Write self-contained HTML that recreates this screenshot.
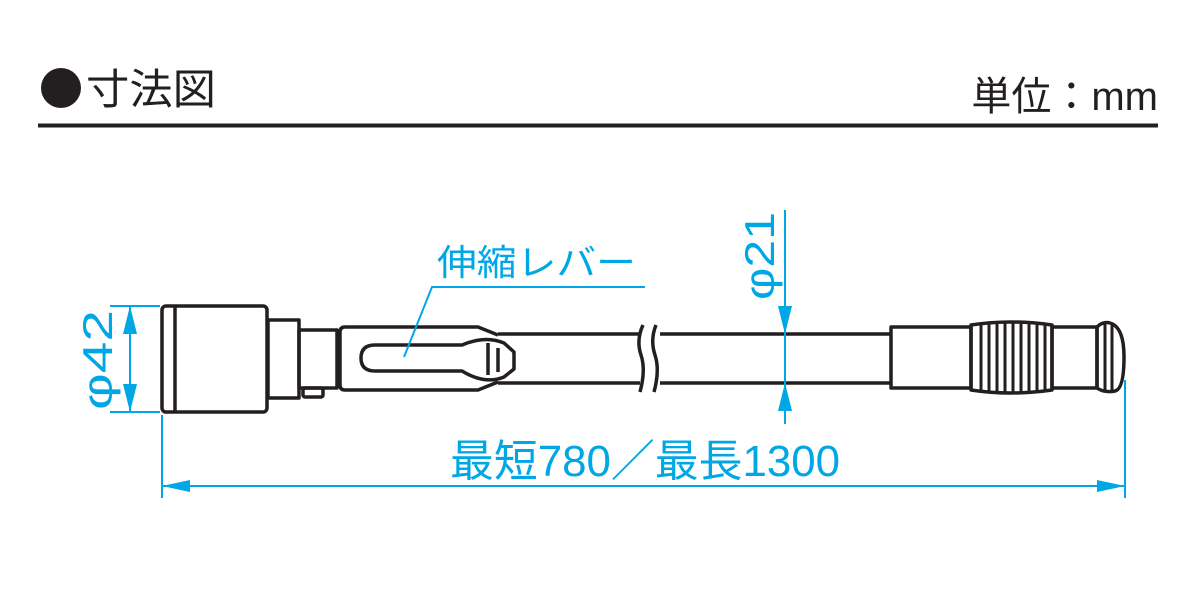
<!DOCTYPE html>
<html><head><meta charset="utf-8"><style>
html,body{margin:0;padding:0;background:#fff;width:1200px;height:600px;overflow:hidden}
svg{display:block}
text{font-family:"Liberation Sans","Noto Sans CJK JP",sans-serif}
</style></head><body>
<svg width="1200" height="600" viewBox="0 0 1200 600" xmlns="http://www.w3.org/2000/svg">
<circle cx="61" cy="88" r="20" fill="#231f20"/>
<text x="86" y="104" font-size="42" fill="#231f20" textLength="130" lengthAdjust="spacingAndGlyphs">寸法図</text>
<text x="1158" y="110" font-size="40" fill="#231f20" text-anchor="end">単位：mm</text>
<rect x="38" y="123.5" width="1120" height="4" fill="#231f20"/>

<g fill="none" stroke="#231f20" stroke-width="3.5" stroke-linejoin="round">
<rect x="162" y="306" width="105" height="106" rx="4"/>
<line x1="175" y1="306" x2="175" y2="412"/>
<rect x="268" y="320" width="31" height="78"/>
<rect x="299" y="330" width="38" height="58"/>
<rect x="303" y="388" width="20" height="9" rx="2"/>
<path d="M498 335 L478 327 H345 Q340 327 340 332 V385 Q340 390 345 390 H478 L498 382"/>
<path d="M375 345 H462 Q485 335 504 343 L514 352 V369 L504 377 Q485 385 462 371 H375 Q361 371 361 358 Q361 345 375 345 Z"/>
<line x1="488" y1="343" x2="488" y2="375"/>
<line x1="498" y1="348" x2="498" y2="372"/>
<line x1="498" y1="334" x2="640" y2="334"/>
<line x1="498" y1="383" x2="640" y2="383"/>
<line x1="660" y1="334" x2="891" y2="334"/>
<line x1="660" y1="383" x2="891" y2="383"/>
<path d="M643 325 Q636 340 641 355 Q646 370 640 392"/>
<path d="M656 325 Q650 340 655 355 Q660 370 654 392"/>
<rect x="891" y="327" width="80" height="61"/>
<path d="M971 325 Q1010 319 1052 325 V390 Q1010 396 971 390 Z"/>
<rect x="1052" y="327" width="45" height="61"/>
<path d="M1097 327 Q1103 321 1110 323 Q1124 327 1124 357 Q1124 389 1115 391 Q1104 393 1097 388 Z"/>
</g>
<g stroke="#231f20" stroke-width="3">
<line x1="981" y1="325" x2="981" y2="391"/><line x1="989" y1="324" x2="989" y2="392"/>
<line x1="997" y1="323" x2="997" y2="393"/><line x1="1005" y1="323" x2="1005" y2="393"/>
<line x1="1013" y1="323" x2="1013" y2="393"/><line x1="1021" y1="323" x2="1021" y2="393"/>
<line x1="1029" y1="323" x2="1029" y2="393"/><line x1="1037" y1="324" x2="1037" y2="392"/>
<line x1="1045" y1="324" x2="1045" y2="391"/>
<line x1="1105" y1="324" x2="1105" y2="391"/><line x1="1112" y1="324" x2="1112" y2="391"/>
</g>

<g stroke="#00a7e5" stroke-width="2" fill="none">
<line x1="110" y1="306" x2="160" y2="306"/>
<line x1="110" y1="412" x2="160" y2="412"/>
<line x1="130" y1="306" x2="130" y2="412"/>
<line x1="785" y1="210" x2="785" y2="424"/>
<line x1="162" y1="415" x2="162" y2="498"/>
<line x1="1125" y1="380" x2="1125" y2="498"/>
<line x1="162" y1="486" x2="1125" y2="486"/>
<path d="M645 287 H432 L404 357"/>
</g>
<g fill="#00a7e5">
<polygon points="130,306 123,334 137,334"/>
<polygon points="130,412 123,384 137,384"/>
<polygon points="785,334 778,306 792,306"/>
<polygon points="785,383 778,411 792,411"/>
<polygon points="162,486 190,480 190,492"/>
<polygon points="1125,486 1097,480 1097,492"/>
</g>
<text x="437" y="275" font-size="36" fill="#00a7e5" textLength="199" lengthAdjust="spacingAndGlyphs">伸縮レバー</text>
<text x="450" y="476" font-size="44" fill="#00a7e5" textLength="390" lengthAdjust="spacingAndGlyphs">最短780／最長1300</text>
<text transform="translate(112,410) rotate(-90)" font-size="42" fill="#00a7e5" textLength="100" lengthAdjust="spacingAndGlyphs">φ42</text>
<text transform="translate(774,300) rotate(-90)" font-size="42" fill="#00a7e5" textLength="88" lengthAdjust="spacingAndGlyphs">φ21</text>
</svg>
</body></html>
